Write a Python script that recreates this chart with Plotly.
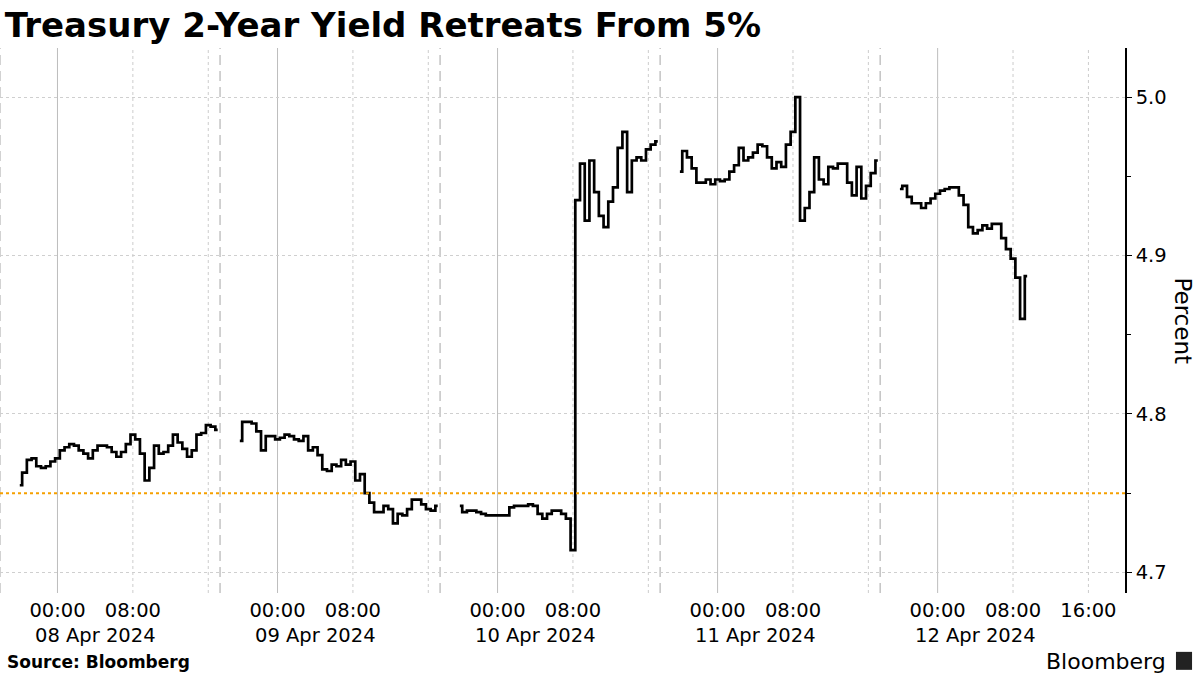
import pandas as pd
import plotly.graph_objects as go

title = "Treasury 2-Year Yield Retreats From 5%"

# each session starts at 20:00 the evening before, 30-minute readings
session_starts = ["2024-04-07 20:00", "2024-04-08 20:00", "2024-04-09 20:00",
                  "2024-04-10 20:00", "2024-04-11 20:00"]

s1 = [4.755, 4.763, 4.771, 4.772, 4.767, 4.766, 4.767, 4.770, 4.772, 4.777,
      4.779, 4.781, 4.780, 4.777, 4.775, 4.772, 4.777, 4.780, 4.780, 4.779,
      4.776, 4.773, 4.776, 4.781, 4.787, 4.784, 4.775, 4.758, 4.766, 4.780,
      4.775, 4.776, 4.780, 4.787, 4.782, 4.778, 4.773, 4.777, 4.787, 4.788,
      4.793, 4.792, 4.790]
s2 = [4.783, 4.795, 4.795, 4.794, 4.789, 4.777, 4.786, 4.786, 4.784, 4.785,
      4.787, 4.786, 4.784, 4.783, 4.786, 4.777, 4.779, 4.774, 4.765, 4.764,
      4.768, 4.767, 4.771, 4.768, 4.770, 4.758, 4.762, 4.750, 4.744, 4.738,
      4.738, 4.742, 4.740, 4.731, 4.737, 4.736, 4.740, 4.746, 4.746, 4.743,
      4.740, 4.739, 4.742]
s3 = [4.742, 4.738, 4.739, 4.739, 4.738, 4.737, 4.736, 4.736, 4.736, 4.736,
      4.736, 4.741, 4.742, 4.742, 4.742, 4.743, 4.742, 4.737, 4.734, 4.737,
      4.739, 4.739, 4.737, 4.734, 4.714, 4.935, 4.958, 4.922, 4.960, 4.940,
      4.925, 4.918, 4.934, 4.943, 4.968, 4.978, 4.940, 4.960, 4.962, 4.960,
      4.967, 4.970, 4.972]
s4 = [4.953, 4.966, 4.962, 4.955, 4.946, 4.946, 4.948, 4.945, 4.948, 4.947,
      4.948, 4.953, 4.957, 4.968, 4.960, 4.962, 4.965, 4.970, 4.969, 4.962,
      4.955, 4.959, 4.956, 4.970, 4.978, 5.000, 4.922, 4.930, 4.940, 4.962,
      4.948, 4.945, 4.956, 4.955, 4.958, 4.958, 4.946, 4.938, 4.956, 4.936,
      4.944, 4.952, 4.960]
s5 = [4.942, 4.944, 4.937, 4.933, 4.933, 4.930, 4.933, 4.936, 4.939, 4.941,
      4.942, 4.943, 4.943, 4.938, 4.932, 4.918, 4.914, 4.916, 4.919, 4.917,
      4.920, 4.920, 4.911, 4.904, 4.898, 4.886, 4.860, 4.887]
session_yields = [s1, s2, s3, s4, s5]

days = ["2024-04-08", "2024-04-09", "2024-04-10", "2024-04-11", "2024-04-12"]
date_labels = ["08 Apr 2024", "09 Apr 2024", "10 Apr 2024", "11 Apr 2024", "12 Apr 2024"]

# daily session break (not plotted on the axis)
break_starts = ["2024-04-08 17:15", "2024-04-09 17:15", "2024-04-10 17:15", "2024-04-11 17:15"]
break_ends = ["2024-04-08 17:54", "2024-04-09 17:54", "2024-04-10 17:54", "2024-04-11 17:54"]
break_ms = 39 * 60 * 1000

ref_level = 4.75
x_start = "2024-04-07 17:54"
x_end = "2024-04-12 19:53"

xs, ys = [], []
for start, vals in zip(session_starts, session_yields):
    t = pd.date_range(start, periods=len(vals), freq="30min")
    xs += list(t.strftime("%Y-%m-%d %H:%M")) + [None]
    ys += vals + [None]

fig = go.Figure()
fig.add_trace(go.Scatter(x=xs, y=ys, mode="lines", connectgaps=False,
                         line=dict(color="black", width=2.7, shape="hvh"),
                         showlegend=False))

# vertical grid: solid at midnight, dotted at 08:00 / 16:00
for d in days:
    fig.add_shape(type="line", x0=d + " 00:00", x1=d + " 00:00", yref="paper", y0=0, y1=1,
                  line=dict(color="#bdbdbd", width=1), layer="below")
    for h in ["08:00", "16:00"]:
        fig.add_shape(type="line", x0=d + " " + h, x1=d + " " + h, yref="paper", y0=0, y1=1,
                      line=dict(color="#cccccc", width=1, dash="dot"), layer="below")

# session boundaries
for b in [x_start] + break_ends:
    fig.add_shape(type="line", x0=b, x1=b, yref="paper", y0=0, y1=1,
                  line=dict(color="#b5b5b5", width=1.2, dash="10px,6px"), layer="below")

fig.add_shape(type="line", xref="paper", x0=0, x1=1, y0=ref_level, y1=ref_level,
              line=dict(color="#f5a000", width=2, dash="dot"), layer="above")

tickvals, ticktext = [], []
for d in days:
    tickvals += [d + " 00:00", d + " 08:00"]
    ticktext += ["00:00", "08:00"]
tickvals.append("2024-04-12 16:00")
ticktext.append("16:00")

for d, lab in zip(days, date_labels):
    fig.add_annotation(x=d + " 04:00", y=-0.078, yref="paper", text=lab, showarrow=False,
                       xanchor="center", yanchor="middle")

fig.add_annotation(x=1.0516, y=0.5, xref="paper", yref="paper", text="Percent", textangle=90,
                   showarrow=False, font=dict(size=23), xanchor="center", yanchor="middle")
fig.add_annotation(x=0.0044, y=-0.1266, xref="paper", yref="paper", text="<b>Source: Bloomberg</b>",
                   showarrow=False, font=dict(size=17), xanchor="left", yanchor="middle")
fig.add_annotation(x=1.038, y=-0.1266, xref="paper", yref="paper", text="Bloomberg",
                   showarrow=False, font=dict(size=22), xanchor="right", yanchor="middle")
fig.add_shape(type="rect", xref="paper", yref="paper", x0=1.0453, x1=1.0596, y0=-0.141, y1=-0.108,
              fillcolor="#222222", line=dict(width=0))

fig.update_layout(
    width=1200, height=675,
    paper_bgcolor="white", plot_bgcolor="white",
    margin=dict(l=0, r=75, t=48, b=82),
    font=dict(family="DejaVu Sans", size=19.5, color="black"),
    title=dict(text=title, x=0.004, xref="container", xanchor="left",
               y=0.963, yref="container", yanchor="middle",
               font=dict(size=34, weight=700, color="black")),
    xaxis=dict(type="date", range=[x_start, x_end],
               rangebreaks=[dict(values=break_starts, dvalue=break_ms)],
               tickvals=tickvals, ticktext=ticktext, showgrid=False, zeroline=False,
               showline=False, ticks="", ticklabelstandoff=3),
    yaxis=dict(side="right", range=[4.687, 5.031], tick0=4.7, dtick=0.1, tickformat=".1f",
               showline=True, linecolor="black", linewidth=1.5, ticks="outside", ticklen=5,
               tickcolor="black", showgrid=True, gridcolor="#cfcfcf", griddash="dot",
               zeroline=False,
               minor=dict(tick0=4.7, dtick=0.05, ticks="outside", ticklen=4, tickcolor="black",
                          showgrid=False)),
)

fig.write_html("out.html", config={"displayModeBar": False},
               post_script="document.body.style.margin='0';")
